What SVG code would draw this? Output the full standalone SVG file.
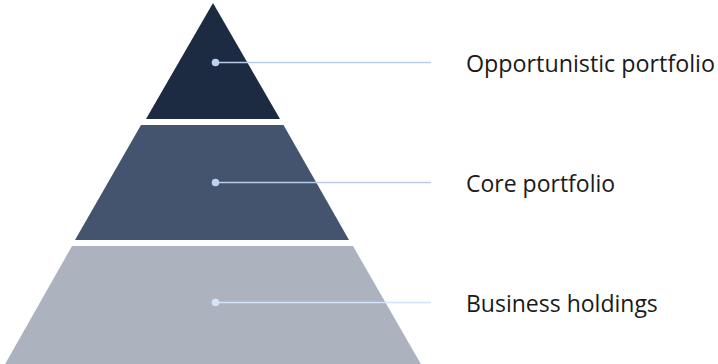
<svg xmlns="http://www.w3.org/2000/svg" width="718" height="364" viewBox="0 0 718 364">
<style>
.lbl{font-family:"Open Sans","Liberation Sans",sans-serif;font-size:23px;fill:#1a1a1a}
.ln{stroke:#b9cde6;stroke-width:1.5;fill:none}
.dot{fill:#bcd2ee}
</style>
<rect width="718" height="364" fill="#ffffff"/>
<g id="tier-top">
<polygon points="213,3 280,119 146,119" fill="#1c2b42"/>
</g>
<g id="tier-middle">
<polygon points="141,125 283.5,125 349,240 75,240" fill="#44546e"/>
</g>
<g id="tier-bottom">
<polygon points="72,246 353,246 422,366 4,366" fill="#adb3be"/>
</g>
<g id="connectors">
<line class="ln" x1="215" y1="62.5" x2="431" y2="62.5"/>
<line class="ln" x1="215" y1="182.5" x2="431" y2="182.5"/>
<line class="ln" x1="215" y1="302.5" x2="431" y2="302.5" style="stroke:#d3e4f8"/>
<circle class="dot" cx="215.5" cy="62.5" r="3.8"/>
<circle class="dot" cx="215.5" cy="182.5" r="3.8"/>
<circle class="dot" cx="215.5" cy="302.5" r="3.8" style="fill:#d3e4f8"/>
</g>
<g id="label-opportunistic"><text class="lbl" x="466" y="72" textLength="249" lengthAdjust="spacingAndGlyphs">Opportunistic portfolio</text></g>
<g id="label-core"><text class="lbl" x="466" y="192">Core portfolio</text></g>
<g id="label-business"><text class="lbl" x="466" y="312">Business holdings</text></g>
</svg>
